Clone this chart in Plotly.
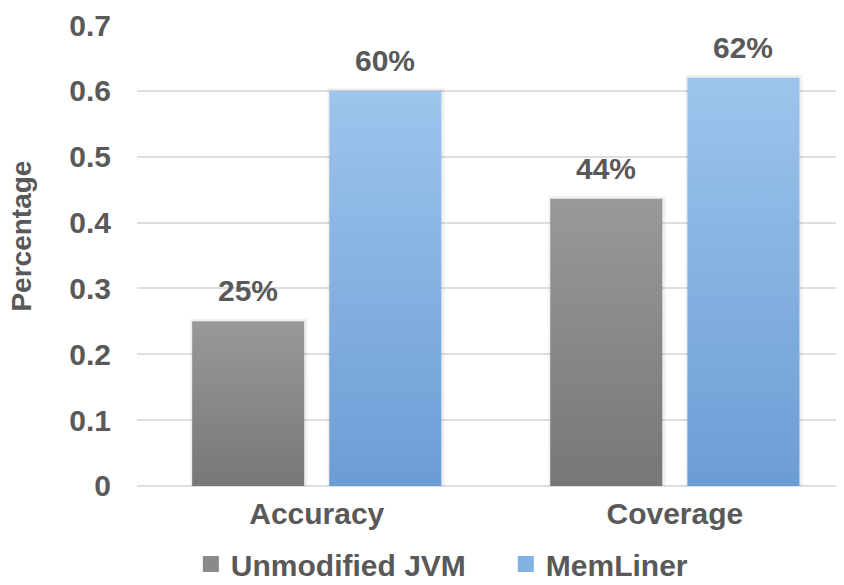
import plotly.graph_objects as go

# Data
categories = ["Accuracy", "Coverage"]
series_names = ["Unmodified JVM", "MemLiner"]
jvm_values = [0.25, 0.436]
memliner_values = [0.60, 0.62]
y_title = "Percentage"

# Styling
TEXT_COLOR = "#595959"
FONT = "Liberation Sans, Arial, sans-serif"
GRID = "#dedede"
# (bottom colour, top colour) of each series' vertical gradient
GRADIENTS = [("#777777", "#999999"), ("#6b9dd5", "#9dc4ec")]
LEGEND_COLORS = ["#8a8a8a", "#82b1e3"]
BAR_W = 0.313
OFFSETS = [-0.348, 0.035]
SHADOW_DX = (0.005, 0.009)   # left / right spread of the soft bar shadow
SHADOW_DY = 0.004

fig = go.Figure()

series = [jvm_values, memliner_values]
for s, (name, vals) in enumerate(zip(series_names, series)):
    bottom, top = GRADIENTS[s]
    for i, v in enumerate(vals):
        x0 = i + OFFSETS[s]
        x1 = x0 + BAR_W
        # faint shadow behind the bar
        sx0, sx1 = x0 - SHADOW_DX[0], x1 + SHADOW_DX[1]
        fig.add_trace(go.Scatter(
            x=[sx0, sx0, sx1, sx1, sx0], y=[0, v + SHADOW_DY, v + SHADOW_DY, 0, 0],
            mode="lines", line=dict(width=0), fill="toself",
            fillcolor="rgba(0,0,0,0.06)", hoverinfo="skip", showlegend=False,
        ))
        fig.add_trace(go.Scatter(
            x=[x0, x0, x1, x1, x0], y=[0, v, v, 0, 0],
            mode="lines", line=dict(width=0), fill="toself",
            fillgradient=dict(type="vertical",
                              colorscale=[[0, bottom], [1, top]]),
            hoverinfo="skip", showlegend=False,
        ))
        fig.add_annotation(
            x=x0 + BAR_W / 2, y=v, yanchor="bottom", yshift=12,
            text=f"{v:.0%}", showarrow=False,
            font=dict(family=FONT, size=30, color=TEXT_COLOR, weight="bold"),
        )
    # legend entry
    fig.add_trace(go.Scatter(
        x=[None], y=[None], mode="markers", name=name,
        marker=dict(symbol="square", size=16, color=LEGEND_COLORS[s]),
    ))

# vertical y-axis title
fig.add_annotation(
    xref="paper", yref="paper", x=-0.1645, y=0.541,
    xanchor="center", yanchor="middle", textangle=-90,
    text=y_title, showarrow=False,
    font=dict(family=FONT, size=28, color=TEXT_COLOR, weight="bold"),
)

fig.update_layout(
    width=844, height=585, autosize=False,
    margin=dict(l=137, r=8, t=24, b=99),
    plot_bgcolor="white", paper_bgcolor="white",
    font=dict(family=FONT, color=TEXT_COLOR, size=30, weight="bold"),
    showlegend=True,
    legend=dict(orientation="h", x=0.077, xanchor="left",
                yref="container", y=0.036, yanchor="middle",
                font=dict(size=30, weight="bold", color=TEXT_COLOR),
                itemwidth=30, entrywidth=270, entrywidthmode="pixels",
                tracegroupgap=0),
    xaxis=dict(range=[-0.502, 1.45], tickvals=[0, 1], ticktext=categories,
               showgrid=False, zeroline=False, showline=False,
               ticklabelstandoff=7, fixedrange=True),
    yaxis=dict(range=[0, 0.7], dtick=0.1, showgrid=True, gridcolor=GRID,
               gridwidth=2, zeroline=True, zerolinecolor=GRID, zerolinewidth=2,
               ticklabelstandoff=25),
)

fig.write_html("out.html")
